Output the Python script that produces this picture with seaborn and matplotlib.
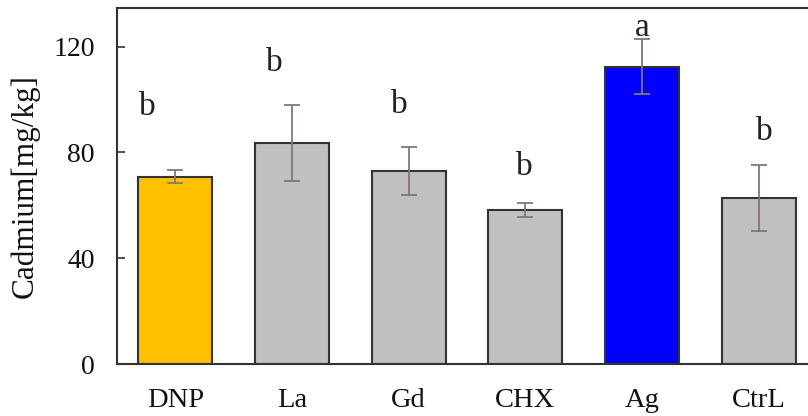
import matplotlib
matplotlib.use("Agg")
import matplotlib.pyplot as plt
import seaborn as sns
import pandas as pd

categories = ["DNP", "La", "Gd", "CHX", "Ag", "CtrL"]
values = [70.8, 83.7, 73.0, 58.2, 112.4, 62.8]
errors = [2.5, 14.4, 9.0, 2.7, 10.3, 12.4]
letters = ["b", "b", "b", "b", "a", "b"]
letter_y = [97.2, 113.8, 97.9, 74.5, 127.0, 87.7]
letter_dx = [-0.24, -0.15, -0.077, -0.01, 0.0, 0.045]
colors = ["#FFC000", "#C0C0C0", "#C0C0C0", "#C0C0C0", "#0000FF", "#C0C0C0"]
yticks = [0, 40, 80, 120]

sns.set_theme(style="white")
plt.rcParams["font.family"] = ["Liberation Serif", "DejaVu Serif"]

df = pd.DataFrame({"cat": categories, "val": values})

fig = plt.figure(figsize=(8.08, 4.16), dpi=100)
ax = fig.add_axes([117 / 808, 52 / 416, 700 / 808, 356 / 416])

sns.barplot(data=df, x="cat", y="val", hue="cat", palette=colors, legend=False,
            width=0.634, edgecolor="#333333", linewidth=1.5, errorbar=None, ax=ax,
            saturation=1)
ax.errorbar(range(len(categories)), values, yerr=errors, fmt="none",
            ecolor="#857676", elinewidth=1.3, capsize=6, capthick=1.3)

for i, (t, ly, dx) in enumerate(zip(letters, letter_y, letter_dx)):
    ax.text(i + dx, ly, t, ha="center", va="center", fontsize=24, color="#222222")

ax.set_xlim(-0.5, 5.5)
ax.set_ylim(0, 134.6)
ax.set_yticks(yticks)
ax.set_xlabel("")
ax.set_ylabel("Cadmium[mg/kg]", fontsize=22.5, color="#111111", labelpad=10)
ax.tick_params(axis="y", direction="in", length=6, width=1.2, color="#333333",
               labelsize=20, pad=16, left=True)
ax.tick_params(axis="x", length=0, labelsize=20.5, pad=17)
for lab in ax.get_xticklabels() + ax.get_yticklabels():
    lab.set_color("#111111")
for s in ax.spines.values():
    s.set_color("#333333")
    s.set_linewidth(1.5)

fig.savefig("out.png", dpi=100)
